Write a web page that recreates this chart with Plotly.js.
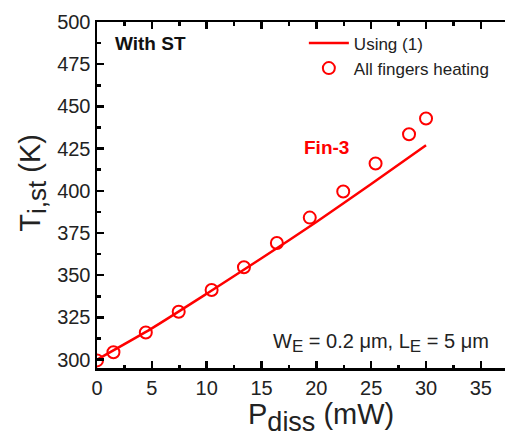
<!DOCTYPE html>
<html>
<head>
<meta charset="utf-8">
<script src="https://cdn.plot.ly/plotly-3.0.1.min.js"></script>
<style>html,body{margin:0;padding:0;background:#fff;overflow:hidden}</style>
</head>
<body>
<div id="chart" style="width:505px;height:440px"></div>
<script>
// Model curve "Using (1)"
const modelP = [0, 5, 10, 15, 20, 25, 30];
const modelT = [300, 318.5, 339, 360, 381.5, 404, 427];
// Simulation points "All fingers heating"
const simP = [0, 1.5, 4.45, 7.45, 10.45, 13.4, 16.4, 19.4, 22.45, 25.4, 28.45, 30];
const simT = [299.5, 304.3, 316, 328.3, 341.2, 354.7, 369.1, 384.1, 399.6, 416.2, 433.5, 442.8];
const xTicks = [0, 5, 10, 15, 20, 25, 30, 35];
const yTicks = [300, 325, 350, 375, 400, 425, 450, 475, 500];

const FONT = 'Arial, "Liberation Sans", sans-serif';
const RED = '#ff0000';

const traces = [
  {x: modelP, y: modelT, mode: 'lines', name: 'Using (1)',
   line: {color: RED, width: 2.5, shape: 'spline', smoothing: 0.6}},
  {x: simP, y: simT, mode: 'markers', name: 'All fingers heating',
   marker: {symbol: 'circle-open', size: 12, color: RED, line: {width: 2, color: RED}}}
];

const axisCommon = {
  showgrid: false, zeroline: false, showline: true, linecolor: '#000', linewidth: 2.5,
  ticks: 'inside', ticklen: 7, tickwidth: 2.5, tickcolor: '#000',
  tickfont: {family: FONT, size: 20, color: '#222'}, layer: 'above traces'
};

const layout = {
  width: 505, height: 440,
  margin: {l: 97, r: 0, t: 22, b: 72},
  paper_bgcolor: '#fff', plot_bgcolor: '#fff',
  font: {family: FONT, color: '#222'},
  showlegend: true,
  legend: {x: 0.507, xanchor: 'left', y: 0.99, yanchor: 'top', bgcolor: 'rgba(0,0,0,0)',
           font: {family: FONT, size: 17, color: '#222'}, itemwidth: 40, tracegroupgap: 0},
  xaxis: Object.assign({}, axisCommon, {
    range: [0, 37.2], tickvals: xTicks, mirror: 'ticks',
    minor: {dtick: 2.5, tick0: 0, ticks: 'inside', ticklen: 3.5, tickwidth: 2.5, tickcolor: '#000'},
    title: {text: '&nbsp;&nbsp;&nbsp;&nbsp;&nbsp;P<sub><span style="font-size:27px">diss</span></sub> (mW)',
            font: {family: FONT, size: 29, color: '#222'}, standoff: 2}
  }),
  yaxis: Object.assign({}, axisCommon, {
    range: [295, 500], tickvals: yTicks, mirror: false,
    minor: {dtick: 12.5, tick0: 300, ticks: 'inside', ticklen: 3.5, tickwidth: 2.5, tickcolor: '#000'},
    title: {text: '&nbsp;&nbsp;&nbsp;T<sub><span style="font-size:26px">i,st</span></sub> (K)',
            font: {family: FONT, size: 29, color: '#222'}, standoff: 8}
  }),
  annotations: [
    {xref: 'paper', yref: 'paper', x: (113-97)/408, y: (368-43)/346, xanchor: 'left', yanchor: 'middle',
     text: '<b>With ST</b>', showarrow: false, font: {family: FONT, size: 19, color: '#111'}},
    {xref: 'paper', yref: 'paper', x: (302-97)/408, y: (368-147)/346, xanchor: 'left', yanchor: 'middle',
     text: '<b>Fin-3</b>', showarrow: false, font: {family: FONT, size: 19, color: RED}},
    {xref: 'paper', yref: 'paper', x: (491-97)/408, y: (368-343)/346, xanchor: 'right', yanchor: 'middle',
     text: 'W<sub><span style="font-size:17px">E</span></sub> = 0.2 \u03bcm, L<sub><span style="font-size:17px">E</span></sub> = 5 \u03bcm',
     showarrow: false, font: {family: FONT, size: 20, color: '#222'}}
  ]
};

Plotly.newPlot('chart', traces, layout, {displayModeBar: false, staticPlot: true});
</script>
</body>
</html>
